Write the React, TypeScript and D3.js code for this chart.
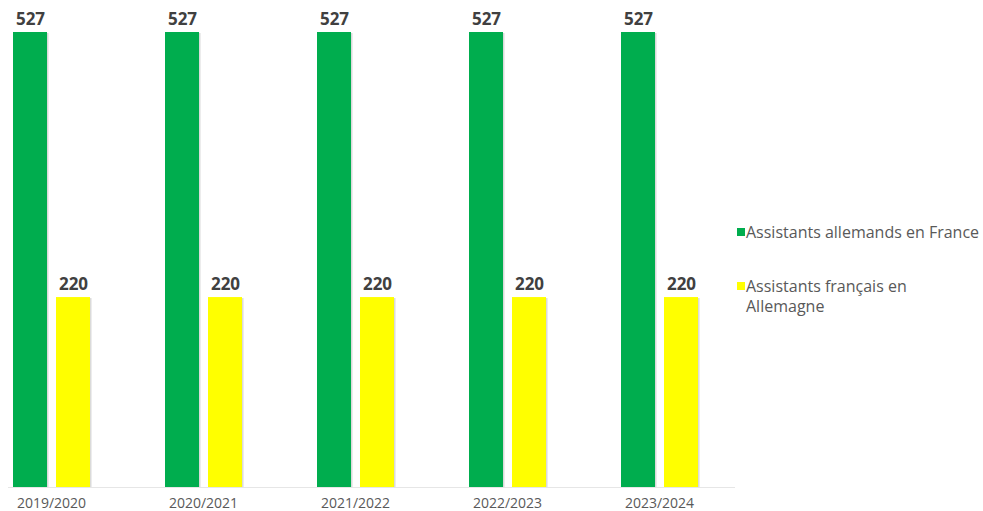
import { useEffect, useRef } from "react";
import { scaleBand, scaleLinear, select } from "d3";

const years = ["2019/2020", "2020/2021", "2021/2022", "2022/2023", "2023/2024"];
const seriesNames = ["Assistants allemands en France", "Assistants français en Allemagne"];
const allemandsEnFrance = [527, 527, 527, 527, 527];
const francaisEnAllemagne = [220, 220, 220, 220, 220];
const colors = ["#00ad4e", "#ffff00"];

const W = 983;
const H = 511;
const baseY = 487;
const font = "'Open Sans', Lato, sans-serif";

export default function App() {
  const ref = useRef<SVGSVGElement>(null);

  useEffect(() => {
    if (!ref.current) return;
    const svg = select(ref.current);
    svg.selectAll("*").remove();

    const x = scaleBand<string>().domain(years).range([-24.5, 735.5]).padding(0);
    const xs = scaleBand<string>().domain(seriesNames).range([37.5, 114.5]).paddingInner(9 / 43);
    const y = scaleLinear().domain([0, 527]).range([baseY, 32]);

    const rows = years.flatMap((yr, i) => [
      { yr, s: seriesNames[0], v: allemandsEnFrance[i], c: colors[0] },
      { yr, s: seriesNames[1], v: francaisEnAllemagne[i], c: colors[1] },
    ]);

    // axis line
    svg.append("line")
      .attr("x1", 8).attr("x2", 735)
      .attr("y1", baseY + 0.5).attr("y2", baseY + 0.5)
      .attr("stroke", "#e6e6e6").attr("stroke-width", 1);

    const g = svg.append("g");
    // soft shadow to the right of bars
    g.selectAll("rect.shadow").data(rows).join("rect")
      .attr("class", "shadow")
      .attr("x", (d) => x(d.yr)! + xs(d.s)! + 1.5)
      .attr("y", (d) => y(d.v) + 1)
      .attr("width", xs.bandwidth())
      .attr("height", (d) => baseY - y(d.v) - 1)
      .attr("fill", "#bbbbbb")
      .attr("opacity", 0.55);

    g.selectAll("rect.bar").data(rows).join("rect")
      .attr("class", "bar")
      .attr("x", (d) => x(d.yr)! + xs(d.s)!)
      .attr("y", (d) => y(d.v))
      .attr("width", xs.bandwidth())
      .attr("height", (d) => baseY - y(d.v))
      .attr("fill", (d) => d.c);

    g.selectAll("text.val").data(rows).join("text")
      .attr("class", "val")
      .attr("x", (d) => x(d.yr)! + xs(d.s)! + xs.bandwidth() / 2 + 0.5)
      .attr("y", (d) => y(d.v) - 7)
      .attr("text-anchor", "middle")
      .attr("font-family", font)
      .attr("font-weight", 700)
      .attr("font-size", 17)
      .attr("fill", "#404040")
      .text((d) => d.v);

    svg.selectAll("text.tick").data(years).join("text")
      .attr("class", "tick")
      .attr("x", (d) => x(d)! + x.bandwidth() / 2)
      .attr("y", 508)
      .attr("text-anchor", "middle")
      .attr("font-family", font)
      .attr("font-size", 14)
      .attr("fill", "#595959")
      .text((d) => d);

    // legend
    const lg = svg.append("g").attr("font-family", font)
      .attr("font-size", 16).attr("fill", "#595959");
    const legendRows = [
      { c: colors[0], lines: ["Assistants allemands en France"], y: 232 },
      { c: colors[1], lines: ["Assistants français en", "Allemagne"], y: 286 },
    ];
    legendRows.forEach((r) => {
      lg.append("rect").attr("x", 737).attr("y", r.y - 4).attr("width", 8).attr("height", 8).attr("fill", r.c);
      r.lines.forEach((t, j) => {
        lg.append("text").attr("x", 746).attr("y", r.y + 5.5 + j * 20).text(t);
      });
    });
  }, []);

  return (
    <div style={{ position: "absolute", left: 0, top: 0 }}>
      <svg ref={ref} width={W} height={H} style={{ background: "#fff", display: "block" }} />
    </div>
  );
}
